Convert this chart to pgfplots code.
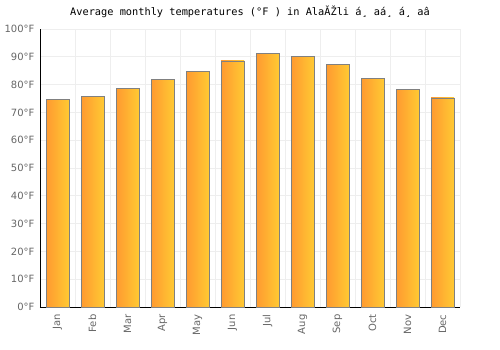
\documentclass[border=0pt]{standalone}
\usepackage{pgfplots}
\pgfplotsset{compat=1.18}
\usepackage{fontspec}
\setmainfont{DejaVu Sans}
\newfontfamily\titlefont{DejaVu Sans Mono}
\definecolor{tickgray}{HTML}{666666}
\definecolor{gridgray}{HTML}{EEEEEE}
\definecolor{barleft}{HTML}{FF9A30}
\definecolor{barright}{HTML}{FFC933}
\definecolor{bardraw}{HTML}{808080}
\pgfplotsset{tbar/.style={ybar, bar shift=0pt, bar width=0.657, draw=bardraw, line width=0.8pt, left color=barleft, right color=barright, mark=none}}
\begin{document}
\begin{tikzpicture}[x=1pt,y=1pt]
\useasboundingbox (-40,-43) rectangle (460,307);
\begin{axis}[
  at={(0,0)}, anchor=south west,
  scale only axis, width=420pt, height=278pt,
  xmin=-0.5, xmax=11.5, ymin=0, ymax=100,
  axis x line*=bottom, axis y line*=left,
  axis line style={black, line width=0.8pt},
  xtick={0,...,11},
  xticklabels={Jan,Feb,Mar,Apr,May,Jun,Jul,Aug,Sep,Oct,Nov,Dec},
  x tick label style={rotate=90, anchor=east, font=\fontsize{10}{12}\selectfont, text=tickgray},
  minor xtick={-0.5,0.5,...,11.5},
  xminorgrids=true,
  ytick={0,10,...,100},
  ymajorgrids=true,
  grid style={gridgray, line width=0.8pt},
  minor grid style={gridgray, line width=0.8pt},
  major tick length=0pt, minor tick length=0pt,
  yticklabel={\pgfmathprintnumber{\tick}°F},
  y tick label style={font=\fontsize{10}{12}\selectfont, text=tickgray},
  /pgf/number format/assume math mode=true,
  xticklabel shift=4pt, yticklabel shift=2pt,
  clip=false,
]
\addplot[tbar] coordinates {(0,74.5)};
\addplot[tbar] coordinates {(1,75.6)};
\addplot[tbar] coordinates {(2,78.5)};
\addplot[tbar] coordinates {(3,81.7)};
\addplot[tbar] coordinates {(4,84.6)};
\addplot[tbar] coordinates {(5,88.5)};
\addplot[tbar] coordinates {(6,91.1)};
\addplot[tbar] coordinates {(7,90.1)};
\addplot[tbar] coordinates {(8,87.2)};
\addplot[tbar] coordinates {(9,82.1)};
\addplot[tbar] coordinates {(10,78.1)};
\addplot[tbar] coordinates {(11,75.2)};
\end{axis}
\node[font=\titlefont\fontsize{10.3}{12}\selectfont] at (210,295) {Average monthly temperatures (°F ) in AlaĂŽli á¸ aá¸ á¸ aâ};
\end{tikzpicture}
\end{document}
